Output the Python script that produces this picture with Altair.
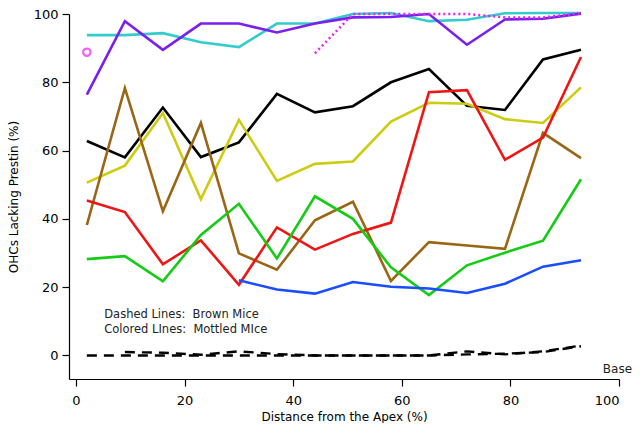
import altair as alt
import pandas as pd

xs = [2, 9, 16, 23, 30, 37, 44, 51, 58, 65, 72, 79, 86, 93]

cyan = [93.8, 93.8, 94.4, 91.7, 90.3, 97.2, 97.2, 100.0, 100.3, 97.9, 98.3, 100.2, 100.3, 100.3]
purple = [76.4, 97.9, 89.5, 97.2, 97.2, 94.6, 97.2, 99.0, 99.1, 100.0, 91.0, 98.4, 98.6, 100.1]
black = [62.8, 58.0, 72.6, 58.1, 62.4, 76.6, 71.2, 73.0, 80.0, 83.9, 73.1, 71.9, 86.7, 89.5]
yellow = [50.6, 55.6, 71.0, 45.8, 69.0, 51.1, 56.1, 56.8, 68.5, 74.0, 73.7, 69.2, 68.1, 78.5]
brown = [38.2, 78.3, 42.2, 68.1, 29.9, 25.1, 39.6, 45.0, 21.8, 33.2, 32.2, 31.2, 65.2, 57.8]
red = [45.4, 42.0, 26.7, 33.7, 20.7, 37.5, 31.0, 35.6, 38.9, 77.1, 77.7, 57.3, 63.8, 87.4]
green = [28.2, 29.1, 21.7, 35.3, 44.4, 28.4, 46.6, 40.0, 25.8, 17.7, 26.4, 30.1, 33.6, 51.6]
blue_x = [30, 37, 44, 51, 58, 65, 72, 79, 86, 93]
blue = [22.0, 19.3, 18.1, 21.5, 20.1, 19.6, 18.3, 21.0, 26.0, 27.9]

magenta_x = [44, 51, 58, 65, 72, 79, 86, 93]
magenta = [88.5, 100.0, 100.0, 100.0, 100.0, 99.0, 99.0, 100.2]
circle_x = [2]
circle_y = [88.8]

dashA_x = xs
dashA = [0, 0, 0, 0, 0, 0, 0, 0, 0, 0, 0.3, 0.5, 1.0, 2.7]
dashB_x = [9, 16, 23, 30, 37, 44, 51, 58, 65, 72, 79, 86, 93]
dashB = [1.0, 0.8, 0.2, 1.2, 0.4, 0, 0, 0, 0, 1.2, 0.3, 1.2, 2.9]

series_names = ["cyan", "purple", "black", "yellow", "brown", "red", "green", "blue"]
series_colors = ["#33cccc", "#7a1fee", "#000000", "#cccc11", "#996615", "#ee1515", "#15cc15", "#1a4dff"]

rows = []
for name, vals in [("cyan", cyan), ("purple", purple), ("black", black), ("yellow", yellow),
                   ("brown", brown), ("red", red), ("green", green)]:
    for x, y in zip(xs, vals):
        rows.append({"s": name, "x": x, "y": y})
for x, y in zip(blue_x, blue):
    rows.append({"s": "blue", "x": x, "y": y})
solid = pd.DataFrame(rows)

dotted = pd.DataFrame({"x": magenta_x, "y": magenta})
circ = pd.DataFrame({"x": circle_x, "y": circle_y})
dashed = pd.DataFrame(
    [{"s": "A", "x": x, "y": y} for x, y in zip(dashA_x, dashA)]
    + [{"s": "B", "x": x, "y": y} for x, y in zip(dashB_x, dashB)]
)

NB = "\u00a0"
notes = pd.DataFrame({
    "x": [5.2, 5.2],
    "y": [11.7, 7.4],
    "t": ["Dashed Lines:" + NB + " Brown Mice", "Colored LInes:" + NB + " Mottled MIce"],
})
base_note = pd.DataFrame({"x": [102.4], "y": [-4.0], "t": ["Base"]})

FONT = "DejaVu Sans"
xscale = alt.Scale(domain=[-1.29, 100], nice=False, zero=False)
yscale = alt.Scale(domain=[-6.9, 100], nice=False, zero=False)
xenc = alt.X("x:Q", scale=xscale, axis=alt.Axis(
    values=[0, 20, 40, 60, 80, 100], title="Distance from the Apex (%)",
    tickSize=7, labelPadding=8, titlePadding=4))
yenc = alt.Y("y:Q", scale=yscale, axis=alt.Axis(
    values=[0, 20, 40, 60, 80, 100], title="OHCs Lacking Prestin (%)",
    tickSize=7, labelPadding=4, titlePadding=13))

lines = alt.Chart(solid).mark_line(strokeWidth=2.6, clip=False).encode(
    x=xenc, y=yenc,
    color=alt.Color("s:N", scale=alt.Scale(domain=series_names, range=series_colors), legend=None),
    detail="s:N",
)
dot_line = alt.Chart(dotted).mark_line(strokeWidth=2.5, strokeDash=[2, 3], color="#ee22ee").encode(
    x="x:Q", y="y:Q")
ring = alt.Chart(circ).mark_point(shape="circle", size=55, strokeWidth=2.2, color="#ee22ee", filled=False).encode(
    x="x:Q", y="y:Q")
dash_lines = alt.Chart(dashed).mark_line(strokeWidth=2.4, strokeDash=[10, 7], color="#000000").encode(
    x="x:Q", y="y:Q", detail="s:N")
txt = alt.Chart(notes).mark_text(align="left", baseline="middle", fontSize=11.5, font=FONT, color="#222222").encode(
    x="x:Q", y="y:Q", text="t:N")
base_txt = alt.Chart(base_note).mark_text(align="right", baseline="middle", fontSize=12, font=FONT, color="#222222").encode(
    x="x:Q", y="y:Q", text="t:N")

chart = alt.layer(lines, dash_lines, dot_line, ring, txt, base_txt).properties(
    width=550, height=365,
    autosize=alt.AutoSizeParams(type="none"),
    padding={"left": 61, "top": 6, "right": 13, "bottom": 44},
).configure_view(stroke=None).configure_axis(
    grid=False, domainColor="#000000", tickColor="#000000", labelColor="#000000",
    titleColor="#000000", labelFont=FONT, titleFont=FONT, labelFontSize=13,
    titleFontSize=12, titleFontWeight="normal", domainWidth=1.2, tickWidth=1.2,
)

chart.save("out.html", embed_options={"renderer": "svg", "actions": False})
